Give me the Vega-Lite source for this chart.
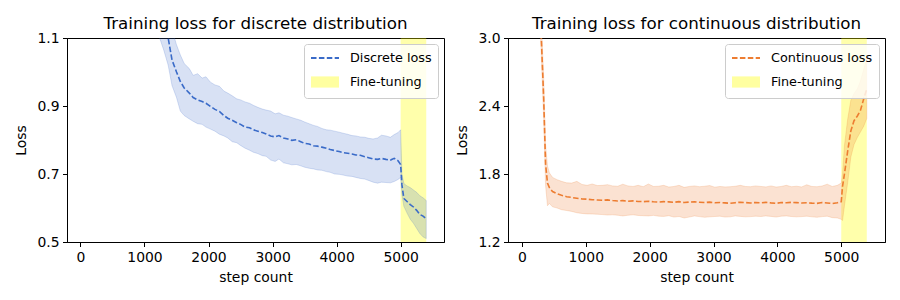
{
  "$schema": "https://vega.github.io/schema/vega-lite/v6.json",
  "padding": {"left": 14, "top": 15, "right": 5, "bottom": 5},
  "spacing": 10,
  "resolve": {"scale": {"color": "independent"}, "legend": {"color": "independent"}},
  "config": {
    "font": "DejaVu Sans",
    "view": {"stroke": "black", "strokeWidth": 1},
    "axis": {"labelFont": "DejaVu Sans", "titleFont": "DejaVu Sans", "labelFontSize": 13.9, "titleFontSize": 13.9, "titleFontWeight": "normal", "labelColor": "black", "titleColor": "black", "domainColor": "black", "tickColor": "black", "tickSize": 4.5, "grid": false, "labelPadding": 3.5},
    "axisX": {"titlePadding": 7},
    "axisY": {"titlePadding": 8},
    "title": {"font": "DejaVu Sans", "fontSize": 16.7, "fontWeight": "normal", "color": "black", "offset": -2},
    "legend": {"labelFont": "DejaVu Sans", "labelFontSize": 12.8, "labelColor": "black"}
  },
  "datasets": {
    "disc": [
      {"step":1100,"mean":1.30,"lo":1.19,"hi":1.41},
      {"step":1200,"mean":1.22,"lo":1.12,"hi":1.32},
      {"step":1300,"mean":1.15,"lo":1.065,"hi":1.24},
      {"step":1370,"mean":1.10,"lo":1.02,"hi":1.19},
      {"step":1430,"mean":1.035,"lo":0.96,"hi":1.125},
      {"step":1500,"mean":1.00,"lo":0.925,"hi":1.08},
      {"step":1560,"mean":0.972,"lo":0.885,"hi":1.05},
      {"step":1620,"mean":0.953,"lo":0.872,"hi":1.025},
      {"step":1700,"mean":0.938,"lo":0.862,"hi":1.01},
      {"step":1760,"mean":0.925,"lo":0.855,"hi":0.99},
      {"step":1830,"mean":0.918,"lo":0.848,"hi":0.995},
      {"step":1900,"mean":0.913,"lo":0.846,"hi":0.982},
      {"step":1960,"mean":0.908,"lo":0.838,"hi":0.986},
      {"step":2030,"mean":0.899,"lo":0.832,"hi":0.97},
      {"step":2100,"mean":0.890,"lo":0.826,"hi":0.962},
      {"step":2170,"mean":0.884,"lo":0.817,"hi":0.958},
      {"step":2240,"mean":0.872,"lo":0.812,"hi":0.944},
      {"step":2300,"mean":0.864,"lo":0.806,"hi":0.938},
      {"step":2370,"mean":0.858,"lo":0.795,"hi":0.93},
      {"step":2440,"mean":0.851,"lo":0.792,"hi":0.921},
      {"step":2500,"mean":0.846,"lo":0.784,"hi":0.918},
      {"step":2570,"mean":0.838,"lo":0.776,"hi":0.912},
      {"step":2640,"mean":0.836,"lo":0.770,"hi":0.908},
      {"step":2700,"mean":0.830,"lo":0.764,"hi":0.902},
      {"step":2770,"mean":0.826,"lo":0.760,"hi":0.896},
      {"step":2840,"mean":0.822,"lo":0.754,"hi":0.891},
      {"step":2900,"mean":0.818,"lo":0.752,"hi":0.888},
      {"step":2970,"mean":0.812,"lo":0.741,"hi":0.885},
      {"step":3040,"mean":0.809,"lo":0.737,"hi":0.877},
      {"step":3100,"mean":0.813,"lo":0.744,"hi":0.88},
      {"step":3170,"mean":0.806,"lo":0.733,"hi":0.873},
      {"step":3240,"mean":0.803,"lo":0.730,"hi":0.87},
      {"step":3300,"mean":0.799,"lo":0.727,"hi":0.866},
      {"step":3370,"mean":0.801,"lo":0.728,"hi":0.862},
      {"step":3440,"mean":0.795,"lo":0.724,"hi":0.858},
      {"step":3500,"mean":0.790,"lo":0.720,"hi":0.853},
      {"step":3570,"mean":0.788,"lo":0.717,"hi":0.848},
      {"step":3640,"mean":0.783,"lo":0.715,"hi":0.843},
      {"step":3700,"mean":0.782,"lo":0.712,"hi":0.840},
      {"step":3770,"mean":0.779,"lo":0.711,"hi":0.834},
      {"step":3840,"mean":0.776,"lo":0.707,"hi":0.830},
      {"step":3900,"mean":0.772,"lo":0.705,"hi":0.829},
      {"step":3970,"mean":0.769,"lo":0.700,"hi":0.826},
      {"step":4040,"mean":0.766,"lo":0.699,"hi":0.823},
      {"step":4100,"mean":0.763,"lo":0.697,"hi":0.820},
      {"step":4170,"mean":0.761,"lo":0.694,"hi":0.817},
      {"step":4240,"mean":0.759,"lo":0.693,"hi":0.813},
      {"step":4300,"mean":0.756,"lo":0.690,"hi":0.812},
      {"step":4370,"mean":0.755,"lo":0.687,"hi":0.809},
      {"step":4440,"mean":0.751,"lo":0.685,"hi":0.808},
      {"step":4500,"mean":0.748,"lo":0.681,"hi":0.805},
      {"step":4570,"mean":0.744,"lo":0.676,"hi":0.803},
      {"step":4640,"mean":0.743,"lo":0.673,"hi":0.806},
      {"step":4700,"mean":0.746,"lo":0.676,"hi":0.814},
      {"step":4770,"mean":0.743,"lo":0.675,"hi":0.812},
      {"step":4840,"mean":0.741,"lo":0.674,"hi":0.808},
      {"step":4900,"mean":0.746,"lo":0.678,"hi":0.816},
      {"step":4960,"mean":0.739,"lo":0.684,"hi":0.822},
      {"step":5000,"mean":0.728,"lo":0.690,"hi":0.830},
      {"step":5020,"mean":0.668,"lo":0.640,"hi":0.700},
      {"step":5050,"mean":0.628,"lo":0.605,"hi":0.672},
      {"step":5100,"mean":0.619,"lo":0.585,"hi":0.665},
      {"step":5150,"mean":0.610,"lo":0.567,"hi":0.660},
      {"step":5200,"mean":0.603,"lo":0.555,"hi":0.653},
      {"step":5250,"mean":0.593,"lo":0.540,"hi":0.646},
      {"step":5300,"mean":0.581,"lo":0.525,"hi":0.636},
      {"step":5350,"mean":0.576,"lo":0.515,"hi":0.630},
      {"step":5400,"mean":0.568,"lo":0.510,"hi":0.622}
    ],
    "cont": [
      {"step":250,"mean":3.60,"lo":3.45,"hi":3.75},
      {"step":300,"mean":3.05,"lo":2.90,"hi":3.20},
      {"step":340,"mean":2.48,"lo":2.30,"hi":2.66},
      {"step":370,"mean":1.89,"lo":1.70,"hi":2.06},
      {"step":400,"mean":1.72,"lo":1.52,"hi":1.87},
      {"step":430,"mean":1.68,"lo":1.54,"hi":1.81},
      {"step":480,"mean":1.645,"lo":1.51,"hi":1.77},
      {"step":550,"mean":1.625,"lo":1.50,"hi":1.75},
      {"step":620,"mean":1.612,"lo":1.485,"hi":1.735},
      {"step":700,"mean":1.600,"lo":1.478,"hi":1.722},
      {"step":780,"mean":1.593,"lo":1.47,"hi":1.72},
      {"step":860,"mean":1.586,"lo":1.458,"hi":1.735},
      {"step":940,"mean":1.580,"lo":1.452,"hi":1.708},
      {"step":1020,"mean":1.578,"lo":1.448,"hi":1.70},
      {"step":1100,"mean":1.573,"lo":1.447,"hi":1.712},
      {"step":1180,"mean":1.571,"lo":1.445,"hi":1.698},
      {"step":1260,"mean":1.568,"lo":1.442,"hi":1.70},
      {"step":1340,"mean":1.572,"lo":1.438,"hi":1.706},
      {"step":1420,"mean":1.566,"lo":1.44,"hi":1.695},
      {"step":1500,"mean":1.562,"lo":1.436,"hi":1.692},
      {"step":1580,"mean":1.565,"lo":1.43,"hi":1.71},
      {"step":1660,"mean":1.560,"lo":1.436,"hi":1.695},
      {"step":1740,"mean":1.563,"lo":1.44,"hi":1.69},
      {"step":1820,"mean":1.558,"lo":1.434,"hi":1.70},
      {"step":1900,"mean":1.556,"lo":1.432,"hi":1.688},
      {"step":1980,"mean":1.559,"lo":1.43,"hi":1.712},
      {"step":2060,"mean":1.555,"lo":1.435,"hi":1.69},
      {"step":2140,"mean":1.552,"lo":1.428,"hi":1.692},
      {"step":2220,"mean":1.556,"lo":1.426,"hi":1.70},
      {"step":2300,"mean":1.554,"lo":1.432,"hi":1.685},
      {"step":2380,"mean":1.550,"lo":1.42,"hi":1.69},
      {"step":2460,"mean":1.556,"lo":1.425,"hi":1.70},
      {"step":2540,"mean":1.548,"lo":1.412,"hi":1.682},
      {"step":2620,"mean":1.552,"lo":1.42,"hi":1.69},
      {"step":2700,"mean":1.555,"lo":1.43,"hi":1.695},
      {"step":2780,"mean":1.551,"lo":1.424,"hi":1.688},
      {"step":2860,"mean":1.548,"lo":1.418,"hi":1.692},
      {"step":2940,"mean":1.552,"lo":1.422,"hi":1.698},
      {"step":3020,"mean":1.546,"lo":1.425,"hi":1.684},
      {"step":3100,"mean":1.549,"lo":1.428,"hi":1.69},
      {"step":3180,"mean":1.545,"lo":1.42,"hi":1.686},
      {"step":3260,"mean":1.542,"lo":1.422,"hi":1.688},
      {"step":3340,"mean":1.547,"lo":1.43,"hi":1.692},
      {"step":3420,"mean":1.551,"lo":1.426,"hi":1.70},
      {"step":3500,"mean":1.548,"lo":1.422,"hi":1.69},
      {"step":3580,"mean":1.544,"lo":1.424,"hi":1.688},
      {"step":3660,"mean":1.549,"lo":1.428,"hi":1.695},
      {"step":3740,"mean":1.546,"lo":1.425,"hi":1.69},
      {"step":3820,"mean":1.550,"lo":1.43,"hi":1.686},
      {"step":3900,"mean":1.545,"lo":1.426,"hi":1.695},
      {"step":3980,"mean":1.541,"lo":1.42,"hi":1.685},
      {"step":4060,"mean":1.548,"lo":1.428,"hi":1.69},
      {"step":4140,"mean":1.546,"lo":1.43,"hi":1.70},
      {"step":4220,"mean":1.550,"lo":1.425,"hi":1.688},
      {"step":4300,"mean":1.547,"lo":1.422,"hi":1.692},
      {"step":4380,"mean":1.544,"lo":1.424,"hi":1.686},
      {"step":4460,"mean":1.546,"lo":1.428,"hi":1.705},
      {"step":4540,"mean":1.543,"lo":1.422,"hi":1.69},
      {"step":4620,"mean":1.541,"lo":1.418,"hi":1.688},
      {"step":4700,"mean":1.548,"lo":1.424,"hi":1.694},
      {"step":4780,"mean":1.544,"lo":1.428,"hi":1.71},
      {"step":4860,"mean":1.540,"lo":1.415,"hi":1.69},
      {"step":4940,"mean":1.546,"lo":1.412,"hi":1.70},
      {"step":5000,"mean":1.556,"lo":1.40,"hi":1.72},
      {"step":5020,"mean":1.69,"lo":1.39,"hi":1.80},
      {"step":5050,"mean":1.80,"lo":1.52,"hi":2.05},
      {"step":5100,"mean":2.00,"lo":1.72,"hi":2.28},
      {"step":5150,"mean":2.18,"lo":1.95,"hi":2.45},
      {"step":5200,"mean":2.27,"lo":2.06,"hi":2.51},
      {"step":5250,"mean":2.31,"lo":2.12,"hi":2.55},
      {"step":5300,"mean":2.36,"lo":2.17,"hi":2.62},
      {"step":5350,"mean":2.46,"lo":2.22,"hi":2.72},
      {"step":5400,"mean":2.55,"lo":2.29,"hi":2.82}
    ],
    "ft": [{"s": 5000, "e": 5400, "series": "Fine-tuning"}]
  },
  "hconcat": [
    {
      "width": 377, "height": 204,
      "title": "Training loss for discrete distribution",
      "layer": [
        {
          "data": {"name": "ft"},
          "mark": {"type": "rect", "opacity": 0.33},
          "encoding": {
            "x": {"field": "s", "type": "quantitative", "scale": {"domain": [-210, 5677], "nice": false, "zero": false}, "axis": {"values": [0,1000,2000,3000,4000,5000], "format": "d"}, "title": "step count"},
            "x2": {"field": "e"},
            "color": {"field": "series", "type": "nominal", "scale": {"domain": ["Discrete loss", "Fine-tuning"], "range": ["#3a6bc8", "#ffff00"]},
              "legend": {"title": null, "orient": "top-right", "offset": 6, "fillColor": "rgba(255,255,255,0.8)", "strokeColor": "#cccccc", "cornerRadius": 3, "padding": 6, "symbolSize": 196, "symbolOffset": 7, "labelOffset": 17, "rowPadding": 7, "labelFontSize": 12.8,
                "symbolType": {"expr": "datum.value === 'Fine-tuning' ? 'M-2,-0.8H2V0.8H-2Z' : 'M-2,0H2'"},
                "symbolStrokeColor": {"expr": "datum.value === 'Fine-tuning' ? 'transparent' : '#3a6bc8'"},
                "symbolStrokeWidth": 1.8,
                "symbolDash": {"expr": "datum.value === 'Fine-tuning' ? [1,0] : [5.5,2.4]"},
                "symbolOpacity": {"expr": "datum.value === 'Fine-tuning' ? 0.37 : 1"}
              }
            }
          }
        },
        {
          "data": {"name": "disc"},
          "mark": {"type": "area", "clip": true, "fill": "#3a6bc8", "fillOpacity": 0.2, "stroke": "#3a6bc8", "strokeOpacity": 0.2, "strokeWidth": 1},
          "encoding": {
            "x": {"field": "step", "type": "quantitative"},
            "y": {"field": "lo", "type": "quantitative", "scale": {"domain": [0.5, 1.1], "nice": false, "zero": false}, "axis": {"values": [0.5, 0.7, 0.9, 1.1], "format": ".1f"}, "title": "Loss"},
            "y2": {"field": "hi"}
          }
        },
        {
          "data": {"name": "disc"},
          "mark": {"type": "line", "clip": true, "color": "#3a6bc8", "strokeDash": [5.5, 2.4], "strokeWidth": 1.6},
          "encoding": {
            "x": {"field": "step", "type": "quantitative"},
            "y": {"field": "mean", "type": "quantitative"}
          }
        }
      ]
    },
    {
      "width": 377, "height": 204,
      "title": "Training loss for continuous distribution",
      "layer": [
        {
          "data": {"name": "ft"},
          "mark": {"type": "rect", "opacity": 0.33},
          "encoding": {
            "x": {"field": "s", "type": "quantitative", "scale": {"domain": [-218, 5685], "nice": false, "zero": false}, "axis": {"values": [0,1000,2000,3000,4000,5000], "format": "d"}, "title": "step count"},
            "x2": {"field": "e"},
            "color": {"field": "series", "type": "nominal", "scale": {"domain": ["Continuous loss", "Fine-tuning"], "range": ["#ed7d31", "#ffff00"]},
              "legend": {"title": null, "orient": "top-right", "offset": 6, "fillColor": "rgba(255,255,255,0.8)", "strokeColor": "#cccccc", "cornerRadius": 3, "padding": 6, "symbolSize": 196, "symbolOffset": 7, "labelOffset": 17, "rowPadding": 7, "labelFontSize": 12.8,
                "symbolType": {"expr": "datum.value === 'Fine-tuning' ? 'M-2,-0.8H2V0.8H-2Z' : 'M-2,0H2'"},
                "symbolStrokeColor": {"expr": "datum.value === 'Fine-tuning' ? 'transparent' : '#ed7d31'"},
                "symbolStrokeWidth": 1.8,
                "symbolDash": {"expr": "datum.value === 'Fine-tuning' ? [1,0] : [5.5,2.4]"},
                "symbolOpacity": {"expr": "datum.value === 'Fine-tuning' ? 0.37 : 1"}
              }
            }
          }
        },
        {
          "data": {"name": "cont"},
          "mark": {"type": "area", "clip": true, "fill": "#ed7d31", "fillOpacity": 0.22, "stroke": "#ed7d31", "strokeOpacity": 0.2, "strokeWidth": 1},
          "encoding": {
            "x": {"field": "step", "type": "quantitative"},
            "y": {"field": "lo", "type": "quantitative", "scale": {"domain": [1.2, 3.0], "nice": false, "zero": false}, "axis": {"values": [1.2, 1.8, 2.4, 3.0], "format": ".1f"}, "title": "Loss"},
            "y2": {"field": "hi"}
          }
        },
        {
          "data": {"name": "cont"},
          "mark": {"type": "line", "clip": true, "color": "#ed7d31", "strokeDash": [5.5, 2.4], "strokeWidth": 1.6},
          "encoding": {
            "x": {"field": "step", "type": "quantitative"},
            "y": {"field": "mean", "type": "quantitative"}
          }
        }
      ]
    }
  ]
}
